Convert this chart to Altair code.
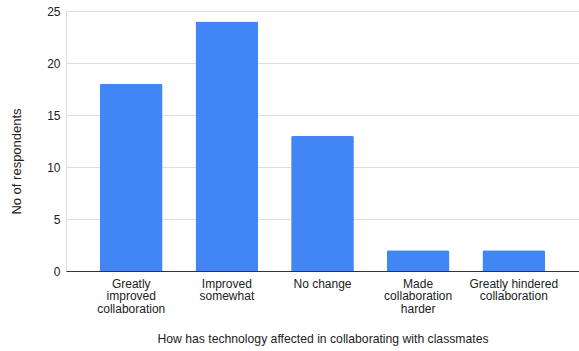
import altair as alt
import pandas as pd

# Survey responses: effect of technology on collaboration
categories = [
    "Greatly\nimproved\ncollaboration",
    "Improved\nsomewhat",
    "No change",
    "Made\ncollaboration\nharder",
    "Greatly hindered\ncollaboration",
]
respondents = [18, 24, 13, 2, 2]

df = pd.DataFrame({"category": categories, "respondents": respondents})

FONT = "Liberation Sans"

chart = (
    alt.Chart(df)
    .mark_bar(color="#4285F4", cornerRadiusTopLeft=2, cornerRadiusTopRight=2)
    .encode(
        x=alt.X(
            "category:N",
            sort=None,
            title="How has technology affected in collaborating with classmates",
            scale=alt.Scale(paddingInner=0.344, paddingOuter=0.354),
            axis=alt.Axis(
                labelAngle=0,
                labelExpr="split(datum.label, '\\n')",
                labelLineHeight=12.5,
                labelFontSize=12,
                labelColor="#222222",
                labelFont=FONT,
                labelPadding=7,
                ticks=False,
                domainColor="#333333",
                domainWidth=1,
                titleFont=FONT,
                titleFontSize=12.2,
                titleFontWeight="normal",
                titleColor="#222222",
                titlePadding=18,
            ),
        ),
        y=alt.Y(
            "respondents:Q",
            title="No of respondents",
            scale=alt.Scale(domain=[0, 25], nice=False),
            axis=alt.Axis(
                values=[0, 5, 10, 15, 20, 25],
                ticks=False,
                domain=False,
                grid=True,
                gridColor="#dedede",
                gridWidth=1,
                labelFontSize=12,
                labelColor="#222222",
                labelFont=FONT,
                labelPadding=6,
                titleFont=FONT,
                titleFontSize=13,
                titleFontWeight="normal",
                titleColor="#222222",
                titlePadding=23,
                titleY=150,
            ),
        ),
    )
    .properties(
        width=513,
        height=260,
        autosize=alt.AutoSizeParams(type="none"),
        padding={"left": 66, "top": 11, "right": 0, "bottom": 80},
    )
    .configure_view(stroke=None)
    .configure(background="white")
)

chart.save("out.html", embed_options={"renderer": "svg", "actions": False})
